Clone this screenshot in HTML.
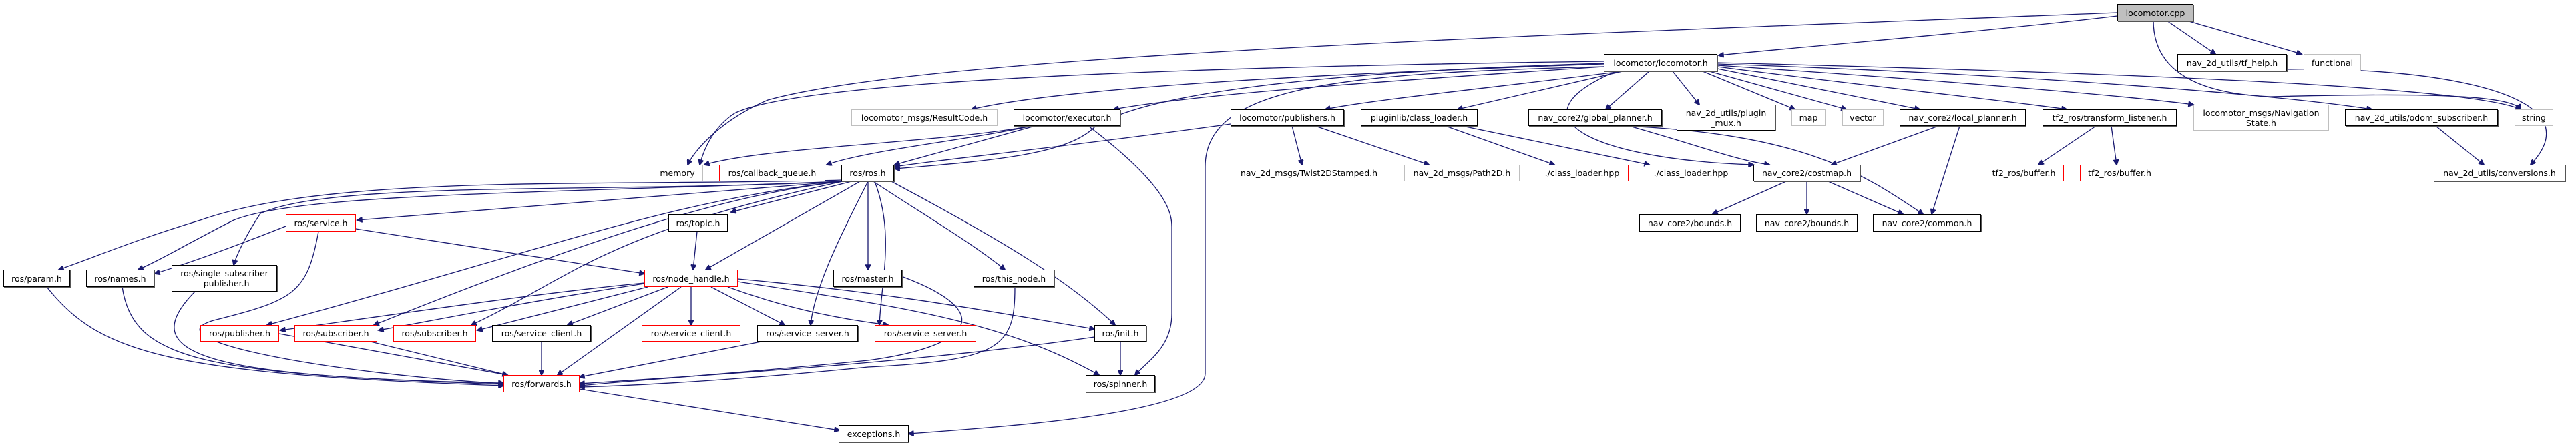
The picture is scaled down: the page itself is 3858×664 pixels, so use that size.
<!DOCTYPE html>
<html><head><meta charset="utf-8"><style>
body{margin:0;width:3858px;height:664px;background:#fff;position:relative;overflow:hidden;font-family:"DejaVu Sans","Liberation Sans",sans-serif;}
.n{position:absolute;box-sizing:border-box;background:#fff;border:1px solid #000;box-shadow:1px 1px 0 #555;display:flex;align-items:center;justify-content:center;text-align:center;font-size:12.5px;line-height:15px;color:#000;white-space:nowrap;}
.g{border-color:#bfbfbf;box-shadow:none;}
.r{border-color:#ff0000;box-shadow:none;}
svg{position:absolute;left:0;top:0;}
path{fill:none;stroke:#191970;stroke-width:1.3;}
</style></head><body>
<svg width="3858" height="664">
<defs><marker id="a" viewBox="0 0 10 10" refX="9" refY="5" markerWidth="10" markerHeight="8" markerUnits="userSpaceOnUse" orient="auto"><path d="M0,0 L10,5 L0,10 z" style="fill:#191970;stroke:#191970"/></marker></defs>
<g marker-end="url(#a)">
<path d="M3171,24 C2950,50 2700,70 2574,83"/>
<path d="M3171,19 C2400,50 1400,80 1150,150 C1080,180 1040,225 1030,247"/>
<path d="M3245,31 L3318,81"/>
<path d="M3275,31 L3447,81"/>
<path d="M3225,31 C3225,100 3280,140 3400,145 C3600,140 3760,140 3775,164"/>
<path d="M3425,104 C3600,100 3900,130 3790,247"/>
<path d="M3648,189 L3720,247"/>
<path d="M2402,96 C2000,110 1600,130 1455,164"/>
<path d="M2402,100 C2100,120 1800,140 1668,164"/>
<path d="M2430,107 C2250,130 2050,150 1985,164"/>
<path d="M2430,107 L2183,164"/>
<path d="M2470,107 L2405,164"/>
<path d="M2505,107 L2545,157"/>
<path d="M2550,107 L2688,164"/>
<path d="M2560,107 L2765,164"/>
<path d="M2572,103 L2875,164"/>
<path d="M2572,100 C2800,130 3000,150 3095,164"/>
<path d="M2572,98 C2900,120 3200,145 3285,157"/>
<path d="M2572,96 C3000,110 3400,140 3552,164"/>
<path d="M2572,94 C3200,110 3700,130 3775,164"/>
<path d="M2402,92 C1800,100 1200,120 1100,170 C1070,190 1055,220 1048,247"/>
<path d="M2402,95 C1900,110 1700,150 1640,190 C1600,230 1500,240 1340,253"/>
<path d="M2402,100 C2000,110 1805,130 1805,250 L1805,560 C1805,620 1500,640 1361,650"/>
<path d="M2420,107 C2250,180 2400,240 2626,247"/>
<path d="M1545,189 C1450,210 1300,225 1238,247"/>
<path d="M1545,189 C1400,215 1150,220 1055,247"/>
<path d="M1550,189 L1340,247"/>
<path d="M1630,189 C1750,280 1755,320 1755,340 L1755,470 C1755,520 1720,540 1700,562"/>
<path d="M1843,186 C1600,220 1400,240 1340,250"/>
<path d="M1935,189 L1950,247"/>
<path d="M1970,189 L2140,247"/>
<path d="M2165,189 L2328,247"/>
<path d="M2190,189 L2470,247"/>
<path d="M2440,189 C2550,220 2600,240 2650,247"/>
<path d="M2430,189 C2700,200 2790,260 2880,321"/>
<path d="M2903,189 L2743,247"/>
<path d="M2935,189 L2893,321"/>
<path d="M2675,272 L2565,321"/>
<path d="M2706,272 L2706,321"/>
<path d="M2738,272 L2850,321"/>
<path d="M3139,189 L3053,247"/>
<path d="M3162,189 L3170,247"/>
<path d="M1262,270 C900,280 500,260 300,330 C200,360 130,390 88,404"/>
<path d="M1262,272 C800,290 450,290 350,330 C290,360 240,390 207,404"/>
<path d="M1262,272 C900,290 500,270 390,320 C370,350 355,380 350,397"/>
<path d="M1262,272 L535,330"/>
<path d="M1275,272 L1095,318"/>
<path d="M1288,272 L1057,404"/>
<path d="M1300,272 L1300,404"/>
<path d="M1308,272 C1380,320 1450,360 1505,404"/>
<path d="M1335,272 C1500,360 1600,420 1670,487"/>
<path d="M1262,272 C1000,300 800,380 400,487"/>
<path d="M1262,272 C1100,290 900,350 560,487"/>
<path d="M1262,272 C900,350 850,420 706,487"/>
<path d="M1300,272 C1260,350 1220,430 1214,487"/>
<path d="M1310,272 C1340,350 1320,420 1317,487"/>
<path d="M428,339 C350,370 280,395 232,410"/>
<path d="M533,343 L965,410"/>
<path d="M477,347 C460,440 440,450 320,480 C220,510 500,560 754,575"/>
<path d="M1044,347 L1038,404"/>
<path d="M965,424 C800,440 600,470 420,495"/>
<path d="M965,425 C800,450 650,480 567,495"/>
<path d="M970,430 L715,495"/>
<path d="M1000,430 L850,487"/>
<path d="M1035,430 L1035,487"/>
<path d="M1065,430 L1175,487"/>
<path d="M1090,430 C1200,470 1280,480 1330,487"/>
<path d="M1105,418 C1350,440 1500,470 1639,493"/>
<path d="M1105,422 C1350,460 1500,480 1646,562"/>
<path d="M1020,430 L835,562"/>
<path d="M70,430 C150,530 250,560 754,578"/>
<path d="M183,430 C200,540 300,560 754,576"/>
<path d="M292,437 C200,530 300,565 754,574"/>
<path d="M418,500 L760,562"/>
<path d="M555,512 L760,562"/>
<path d="M811,512 L811,562"/>
<path d="M1140,512 L868,565"/>
<path d="M1639,505 C1400,540 1100,560 868,575"/>
<path d="M1350,414 C1500,470 1450,520 1300,540 C1100,560 950,570 868,578"/>
<path d="M1520,430 C1520,520 1500,540 1300,550 C1100,570 950,578 868,580"/>
<path d="M1678,512 L1678,562"/>
<path d="M868,583 L1257,645"/>
</g></svg>

<div class="n" style="left:3171px;top:6px;width:114px;height:26px;background:#bfbfbf">locomotor.cpp</div>
<div class="n" style="left:2402px;top:81px;width:170px;height:26px">locomotor/locomotor.h</div>
<div class="n" style="left:3261px;top:81px;width:164px;height:26px">nav_2d_utils/tf_help.h</div>
<div class="n g" style="left:3450px;top:81px;width:86px;height:26px">functional</div>
<div class="n g" style="left:1275px;top:164px;width:219px;height:25px">locomotor_msgs/ResultCode.h</div>
<div class="n" style="left:1518px;top:164px;width:160px;height:25px">locomotor/executor.h</div>
<div class="n" style="left:1843px;top:164px;width:170px;height:25px">locomotor/publishers.h</div>
<div class="n" style="left:2038px;top:164px;width:175px;height:25px">pluginlib/class_loader.h</div>
<div class="n" style="left:2289px;top:164px;width:200px;height:25px">nav_core2/global_planner.h</div>
<div class="n" style="left:2511px;top:157px;width:148px;height:39px">nav_2d_utils/plugin<br>_mux.h</div>
<div class="n g" style="left:2683px;top:164px;width:51px;height:25px">map</div>
<div class="n g" style="left:2759px;top:164px;width:62px;height:25px">vector</div>
<div class="n" style="left:2845px;top:164px;width:189px;height:25px">nav_core2/local_planner.h</div>
<div class="n" style="left:3059px;top:164px;width:201px;height:25px">tf2_ros/transform_listener.h</div>
<div class="n g" style="left:3285px;top:157px;width:203px;height:39px">locomotor_msgs/Navigation<br>State.h</div>
<div class="n" style="left:3512px;top:164px;width:229px;height:25px">nav_2d_utils/odom_subscriber.h</div>
<div class="n g" style="left:3766px;top:164px;width:58px;height:25px">string</div>
<div class="n g" style="left:976px;top:247px;width:77px;height:25px">memory</div>
<div class="n r" style="left:1077px;top:247px;width:159px;height:25px">ros/callback_queue.h</div>
<div class="n" style="left:1260px;top:247px;width:79px;height:25px">ros/ros.h</div>
<div class="n g" style="left:1843px;top:247px;width:235px;height:25px">nav_2d_msgs/Twist2DStamped.h</div>
<div class="n g" style="left:2103px;top:247px;width:173px;height:25px">nav_2d_msgs/Path2D.h</div>
<div class="n r" style="left:2300px;top:247px;width:139px;height:25px">./class_loader.hpp</div>
<div class="n r" style="left:2463px;top:247px;width:139px;height:25px">./class_loader.hpp</div>
<div class="n" style="left:2626px;top:247px;width:160px;height:25px">nav_core2/costmap.h</div>
<div class="n r" style="left:2971px;top:247px;width:120px;height:25px">tf2_ros/buffer.h</div>
<div class="n r" style="left:3115px;top:247px;width:119px;height:25px">tf2_ros/buffer.h</div>
<div class="n" style="left:3645px;top:247px;width:197px;height:25px">nav_2d_utils/conversions.h</div>
<div class="n r" style="left:428px;top:321px;width:105px;height:26px">ros/service.h</div>
<div class="n" style="left:1001px;top:321px;width:89px;height:26px">ros/topic.h</div>
<div class="n" style="left:2455px;top:321px;width:152px;height:26px">nav_core2/bounds.h</div>
<div class="n" style="left:2630px;top:321px;width:152px;height:26px">nav_core2/bounds.h</div>
<div class="n" style="left:2805px;top:321px;width:162px;height:26px">nav_core2/common.h</div>
<div class="n" style="left:5px;top:404px;width:100px;height:26px">ros/param.h</div>
<div class="n" style="left:129px;top:404px;width:102px;height:26px">ros/names.h</div>
<div class="n" style="left:257px;top:397px;width:158px;height:40px">ros/single_subscriber<br>_publisher.h</div>
<div class="n r" style="left:965px;top:404px;width:140px;height:26px">ros/node_handle.h</div>
<div class="n" style="left:1248px;top:404px;width:103px;height:26px">ros/master.h</div>
<div class="n" style="left:1458px;top:404px;width:121px;height:26px">ros/this_node.h</div>
<div class="n r" style="left:300px;top:487px;width:118px;height:25px">ros/publisher.h</div>
<div class="n r" style="left:441px;top:487px;width:124px;height:25px">ros/subscriber.h</div>
<div class="n r" style="left:589px;top:487px;width:124px;height:25px">ros/subscriber.h</div>
<div class="n" style="left:737px;top:487px;width:148px;height:25px">ros/service_client.h</div>
<div class="n r" style="left:961px;top:487px;width:148px;height:25px">ros/service_client.h</div>
<div class="n" style="left:1134px;top:487px;width:151px;height:25px">ros/service_server.h</div>
<div class="n r" style="left:1310px;top:487px;width:152px;height:25px">ros/service_server.h</div>
<div class="n" style="left:1639px;top:487px;width:78px;height:25px">ros/init.h</div>
<div class="n r" style="left:754px;top:562px;width:114px;height:26px">ros/forwards.h</div>
<div class="n" style="left:1626px;top:562px;width:104px;height:26px">ros/spinner.h</div>
<div class="n" style="left:1256px;top:637px;width:105px;height:26px">exceptions.h</div>
</body></html>
